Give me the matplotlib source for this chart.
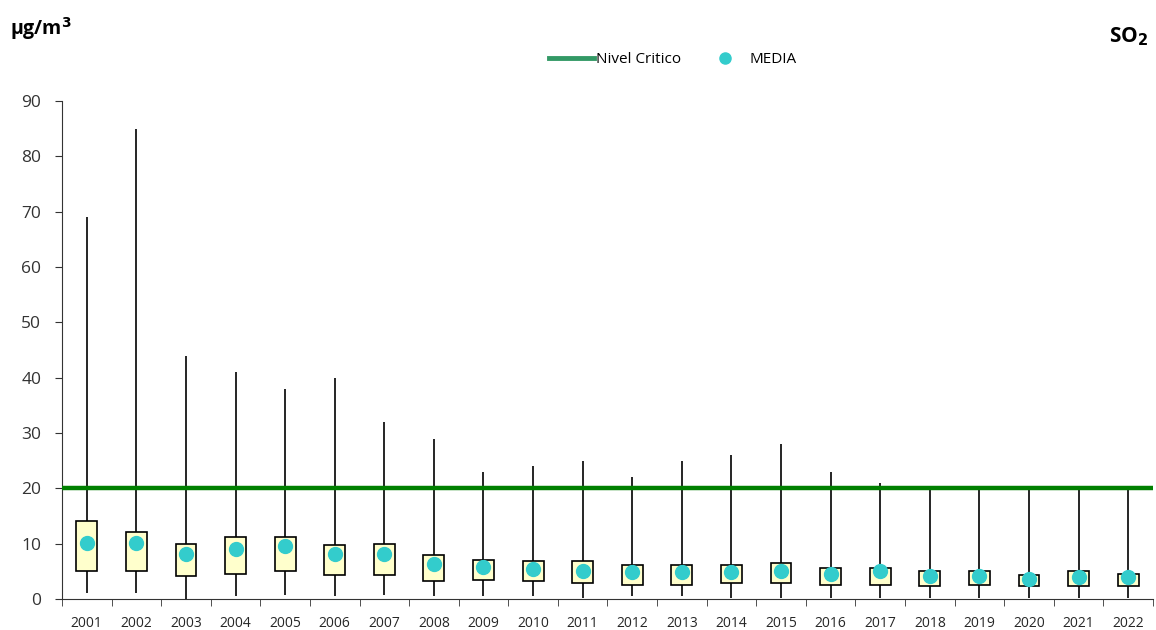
import numpy as np
import matplotlib.pyplot as plt
from matplotlib.lines import Line2D

years = [str(y) for y in range(2001, 2023)]
p_low = [1.1, 1.1, 0.0, 0.5, 0.8, 0.5, 0.8, 0.5, 0.5, 0.5, 0.2, 0.5, 0.5, 0.2, 0.2, 0.2,
         0.2, 0.2, 0.2, 0.2, 0.2, 0.2]
q1 = [5.0, 5.0, 4.1, 4.6, 5.0, 4.3, 4.3, 3.2, 3.5, 3.2, 2.9, 2.6, 2.6, 2.9, 2.9, 2.6,
      2.6, 2.3, 2.6, 2.3, 2.3, 2.3]
q3 = [14.1, 12.1, 10.0, 11.2, 11.2, 9.7, 10.0, 7.9, 7.1, 6.8, 6.8, 6.2, 6.2, 6.2, 6.5, 5.6,
      5.6, 5.0, 5.0, 4.4, 5.0, 4.6]
p_high = [69, 85, 44, 41, 38, 40, 32, 29, 23, 24, 25, 22, 25, 26, 28, 23,
          21, 20, 20, 20, 20, 20]
media = [10.1, 10.1, 8.1, 9.0, 9.5, 8.1, 8.1, 6.3, 5.7, 5.4, 5.1, 4.8, 4.8, 4.8, 5.1, 4.5,
         5.0, 4.2, 4.2, 3.6, 3.9, 3.9]
nivel_critico = 20

plt.rcParams['font.family'] = ['Open Sans', 'DejaVu Sans']

fig = plt.figure(figsize=(11.56, 6.3), dpi=100)
ax = fig.add_axes([0.0536, 0.0492, 0.9438, 0.7905])

x = np.arange(len(years))
w = 0.42

# whiskers
ax.vlines(x, p_low, p_high, color='black', lw=1.2, zorder=2)
# boxes
ax.bar(x, np.array(q3) - np.array(q1), bottom=q1, width=w, color='#FFFFCC',
       edgecolor='black', linewidth=1.2, zorder=3)
# critical level
ax.axhline(nivel_critico, color='#008000', lw=3.2, zorder=4)
# mean
ax.plot(x, media, 'o', color='#33CCCC', markersize=10, zorder=5)

ax.set_xlim(-0.5, len(years) - 0.5)
ax.set_ylim(0, 90)
ax.set_yticks(range(0, 91, 10))
ax.set_xticks(x)
ax.set_xticklabels(years, fontsize=10, color='#262626')
ax.set_xticks(np.arange(-0.5, len(years)), minor=True)
ax.tick_params(axis='x', which='major', length=0, pad=12)
ax.tick_params(axis='x', which='minor', length=5, direction='out', color='#333333')
ax.tick_params(axis='y', labelsize=12.5, colors='#333333', length=5, direction='out', pad=10)
for s in ['top', 'right']:
    ax.spines[s].set_visible(False)
ax.spines['left'].set_color('#333333')
ax.spines['bottom'].set_color('#333333')

handles = [Line2D([], [], color='#339966', lw=3.5),
           Line2D([], [], marker='o', ls='', color='#33CCCC', markersize=8)]
fig.legend(handles, ['Nivel Critico', 'MEDIA'], loc='center', bbox_to_anchor=(0.582, 0.905),
           ncol=2, frameon=False, fontsize=11, handlelength=3.0, handletextpad=0.1,
           columnspacing=1.4)

fig.text(0.009, 0.955, 'µg/m$^\\mathbf{3}$', fontsize=14, fontweight='bold', va='center')
fig.text(0.993, 0.942, 'SO$_\\mathbf{2}$', fontsize=15, fontweight='bold', va='center', ha='right')

fig.savefig('out.png', dpi=100)
